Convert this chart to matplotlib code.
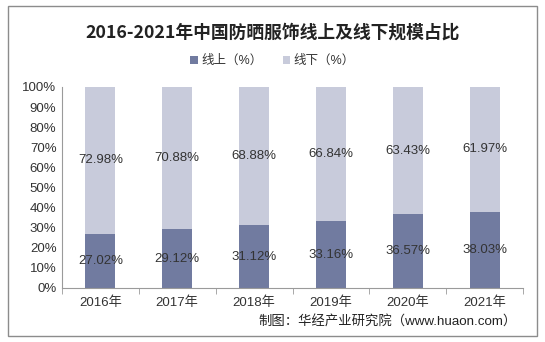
import numpy as np
import matplotlib.pyplot as plt
from matplotlib.patches import Rectangle

years = ['2016年', '2017年', '2018年', '2019年', '2020年', '2021年']
online = [27.02, 29.12, 31.12, 33.16, 36.57, 38.03]     # 线上 (%)
offline = [72.98, 70.88, 68.88, 66.84, 63.43, 61.97]    # 线下 (%)
yticks = [0, 10, 20, 30, 40, 50, 60, 70, 80, 90, 100]

c_on = '#717ba0'
c_off = '#c8cbdb'
fam = ['Liberation Sans', 'Noto Sans CJK SC']

fig = plt.figure(figsize=(5.45, 3.42), dpi=100)
fig.patch.set_facecolor('white')
# outer frame
fig.add_artist(Rectangle((8/545, 6/342), 529/545, 330/342, transform=fig.transFigure,
                         fill=False, edgecolor='#8c8c8c', linewidth=1.0))

ax = fig.add_axes([62/545, 1 - 288/342, 461/545, 201/342])
x = np.arange(len(years))
w = 0.39
ax.bar(x, online, w, color=c_on, label='线上（%）', zorder=2)
ax.bar(x, offline, w, bottom=online, color=c_off, label='线下（%）', zorder=2)

for i in range(len(years)):
    ax.text(x[i], online[i] / 2, '%.2f%%' % online[i], ha='center', va='center',
            fontsize=9.5, family=fam, color='#333333', zorder=3)
    ax.text(x[i], online[i] + offline[i] / 2, '%.2f%%' % offline[i], ha='center', va='center',
            fontsize=9.5, family=fam, color='#333333', zorder=3)

ax.set_xlim(-0.5, len(years) - 0.5)
ax.set_ylim(0, 100)
ax.set_yticks(yticks)
ax.set_yticklabels(['%d%%' % t for t in yticks], family=fam, fontsize=9.5, color='#333333')
ax.set_xticks(x)
ax.set_xticklabels(years, family=fam, fontsize=9.5, color='#333333')
ax.tick_params(axis='x', length=0, pad=6)
ax.tick_params(axis='y', length=0, pad=4)
ax.set_xticks(np.arange(-0.5, len(years)), minor=True)
ax.tick_params(axis='x', which='minor', length=4, color='#9a9a9a', direction='out')
for s in ['top', 'right']:
    ax.spines[s].set_visible(False)
ax.spines['left'].set_color('#9a9a9a')
ax.spines['bottom'].set_color('#9a9a9a')

fig.text(0.5, 1 - 33/342, '2016-2021年中国防晒服饰线上及线下规模占比', ha='center', va='center',
         fontsize=12.8, fontweight='bold', family=['Noto Sans CJK SC'], color='#222222')

leg = fig.legend(loc='center', bbox_to_anchor=(0.5, 1 - 61/342), ncol=2, frameon=False,
                 prop={'family': fam, 'size': 9}, handlelength=0.6, handleheight=0.6,
                 handletextpad=0.3, columnspacing=1.6)
for t in leg.get_texts():
    t.set_color('#333333')

fig.text(517/545, 1 - 322/342, '制图：华经产业研究院（www.huaon.com）', ha='right', va='center',
         fontsize=9.6, family=fam, color='#222222')

fig.savefig('out.png', dpi=100)
